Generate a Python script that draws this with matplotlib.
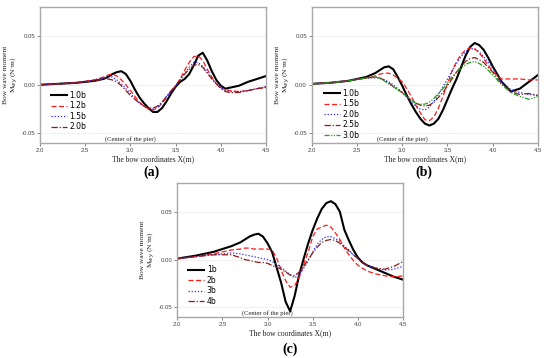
import matplotlib
matplotlib.use("Agg")
import matplotlib.pyplot as plt

# ---------------- data ----------------
x = [2.0, 2.2, 2.4, 2.6, 2.7, 2.75, 2.8, 2.85, 2.9, 2.95, 3.0, 3.05, 3.1, 3.15, 3.2, 3.25,
     3.3, 3.35, 3.4, 3.45, 3.5, 3.55, 3.6, 3.65, 3.7, 3.75, 3.8, 3.85, 3.9, 3.95, 4.0,
     4.05, 4.1, 4.2, 4.3, 4.4, 4.5]

# panel (a)
a_labels = ["1.0b", "1.2b", "1.5b", "2.0b"]
a_10 = [0.000, 0.001, 0.002, 0.004, 0.006, 0.008, 0.011, 0.013, 0.014, 0.011, 0.004, -0.005,
        -0.013, -0.019, -0.024, -0.028, -0.028, -0.024, -0.017, -0.009, -0.002, 0.003, 0.006,
        0.011, 0.020, 0.030, 0.033, 0.025, 0.014, 0.005, -0.001, -0.004, -0.003, -0.001,
        0.003, 0.006, 0.009]
a_12 = [0.000, 0.001, 0.002, 0.005, 0.008, 0.010, 0.011, 0.009, 0.005, 0.000, -0.006, -0.012,
        -0.018, -0.022, -0.025, -0.026, -0.024, -0.019, -0.013, -0.007, -0.001, 0.006, 0.015,
        0.023, 0.029, 0.030, 0.025, 0.016, 0.008, 0.001, -0.003, -0.005, -0.006, -0.007,
        -0.006, -0.004, -0.002]
a_15 = [0.000, 0.001, 0.002, 0.005, 0.007, 0.008, 0.008, 0.005, 0.001, -0.004, -0.009, -0.014,
        -0.019, -0.022, -0.024, -0.025, -0.023, -0.018, -0.012, -0.007, -0.001, 0.005, 0.012,
        0.018, 0.023, 0.023, 0.019, 0.013, 0.007, 0.001, -0.003, -0.006, -0.007, -0.007,
        -0.006, -0.004, -0.002]
a_20 = [0.000, 0.001, 0.002, 0.004, 0.006, 0.006, 0.005, 0.003, -0.001, -0.006, -0.011, -0.015,
        -0.019, -0.022, -0.024, -0.024, -0.022, -0.018, -0.012, -0.006, -0.001, 0.005, 0.011,
        0.016, 0.020, 0.021, 0.018, 0.012, 0.006, 0.001, -0.004, -0.007, -0.008, -0.008,
        -0.006, -0.004, -0.003]

# panel (b)
b_labels = ["1.0b", "1.5b", "2.0b", "2.5b", "3.0b"]
b_10 = [0.001, 0.002, 0.004, 0.008, 0.012, 0.015, 0.018, 0.019, 0.016, 0.008, -0.001, -0.011,
        -0.020, -0.028, -0.035, -0.040, -0.042, -0.040, -0.035, -0.026, -0.015, -0.004, 0.006,
        0.018, 0.030, 0.039, 0.043, 0.041, 0.036, 0.028, 0.019, 0.011, 0.003, -0.007, -0.004,
        0.003, 0.010]
b_15 = [0.001, 0.002, 0.004, 0.007, 0.009, 0.011, 0.012, 0.012, 0.010, 0.007, 0.003, -0.004,
        -0.012, -0.021, -0.029, -0.036, -0.037, -0.033, -0.024, -0.012, 0.001, 0.014, 0.024,
        0.031, 0.036, 0.038, 0.037, 0.033, 0.027, 0.020, 0.014, 0.009, 0.006, 0.006, 0.006,
        0.005, 0.005]
b_20 = [0.001, 0.002, 0.004, 0.007, 0.007, 0.007, 0.005, 0.003, 0.000, -0.004, -0.008, -0.013,
        -0.018, -0.022, -0.025, -0.026, -0.023, -0.017, -0.010, -0.002, 0.006, 0.014, 0.022,
        0.029, 0.034, 0.037, 0.037, 0.034, 0.029, 0.023, 0.017, 0.010, 0.003, -0.005, -0.008,
        -0.010, -0.011]
b_25 = [0.001, 0.002, 0.004, 0.007, 0.008, 0.007, 0.005, 0.002, -0.002, -0.005, -0.008, -0.012,
        -0.016, -0.019, -0.021, -0.022, -0.021, -0.018, -0.013, -0.008, -0.001, 0.006, 0.013,
        0.019, 0.024, 0.027, 0.028, 0.026, 0.023, 0.018, 0.013, 0.007, 0.001, -0.007, -0.010,
        -0.009, -0.011]
b_30 = [0.001, 0.002, 0.004, 0.007, 0.008, 0.007, 0.004, 0.001, -0.002, -0.005, -0.008, -0.012,
        -0.016, -0.019, -0.020, -0.020, -0.018, -0.014, -0.009, -0.004, 0.002, 0.008, 0.013,
        0.017, 0.021, 0.023, 0.024, 0.022, 0.019, 0.015, 0.010, 0.005, 0.000, -0.008, -0.012,
        -0.015, -0.012]

# panel (c)
c_labels = ["1b", "2b", "3b", "4b"]
c_1 = [0.001, 0.004, 0.008, 0.014, 0.018, 0.021, 0.024, 0.026, 0.027, 0.024, 0.017, 0.008,
       -0.008, -0.024, -0.044, -0.054, -0.038, -0.016, 0.001, 0.017, 0.031, 0.043, 0.053,
       0.059, 0.061, 0.058, 0.050, 0.031, 0.020, 0.010, 0.002, -0.003, -0.006, -0.010, -0.014,
       -0.018, -0.021]
c_2 = [0.001, 0.003, 0.006, 0.010, 0.011, 0.012, 0.012, 0.011, 0.011, 0.011, 0.011, 0.010,
       0.002, -0.011, -0.022, -0.029, -0.027, -0.019, -0.005, 0.008, 0.024, 0.032, 0.034,
       0.036, 0.034, 0.028, 0.021, 0.012, 0.005, -0.001, -0.006, -0.009, -0.012, -0.015,
       -0.017, -0.018, -0.017]
c_3 = [0.001, 0.003, 0.005, 0.007, 0.006, 0.005, 0.004, 0.003, 0.002, 0.001, 0.000, -0.002,
       -0.005, -0.008, -0.012, -0.016, -0.019, -0.016, -0.009, -0.001, 0.008, 0.016, 0.021,
       0.024, 0.024, 0.022, 0.019, 0.014, 0.010, 0.005, 0.001, -0.003, -0.006, -0.009, -0.011,
       -0.010, -0.007]
c_4 = [0.001, 0.003, 0.005, 0.005, 0.002, 0.000, -0.001, -0.002, -0.003, -0.003, -0.004, -0.006,
       -0.008, -0.010, -0.013, -0.016, -0.017, -0.013, -0.007, 0.000, 0.007, 0.013, 0.018,
       0.020, 0.021, 0.020, 0.017, 0.013, 0.009, 0.005, 0.001, -0.003, -0.006, -0.009, -0.010,
       -0.007, -0.002]

x_ticks = [2.0, 2.5, 3.0, 3.5, 4.0, 4.5]
y_ticks = [-0.05, 0.00, 0.05]

# ---------------- styles ----------------
BLACK = dict(color="black", lw=1.5, ls="-")
RED = dict(color="#ff1a1a", lw=0.9, ls=(0, (4, 2)))
BLUE = dict(color="#2a2aff", lw=0.9, ls=(0, (1, 1.5)))
BROWN = dict(color="#8b1c1c", lw=0.9, ls=(0, (5, 1.5, 1, 1.5)))
GREEN = dict(color="#19a319", lw=0.9, ls=(0, (4, 1.2, 1, 1.2, 1, 1.2)))

SERIF = "Liberation Serif"
fig = plt.figure(figsize=(5.5, 3.58), dpi=100)

def setup(ax, panel, label_x, label_y):
    ax.set_xlim(2.0, 4.5)
    ax.set_ylim(-0.06, 0.08)
    ax.set_xticks(x_ticks)
    ax.set_xticklabels(["%.1f" % v for v in x_ticks])
    ax.set_yticks(y_ticks)
    ax.set_yticklabels(["%.2f" % v for v in y_ticks])
    ax.tick_params(labelsize=4.3, length=2, width=0.5, colors="#555555", pad=1.5,
                   direction="out")
    for lab in ax.get_xticklabels() + ax.get_yticklabels():
        lab.set_fontfamily("Liberation Sans")
        lab.set_color("#444444")
    for s in ax.spines.values():
        s.set_color("#a8a8a8")
        s.set_linewidth(1.0)
    for yv in y_ticks:
        ax.axhline(yv, color="#d8d8d8", lw=0.5, ls=(0, (1, 1)), zorder=0)
    ax.set_xlabel("The bow coordinates X(m)", fontsize=5.5, family=SERIF, labelpad=2,
                  color="#222222")
    ax.set_ylabel("Bow wave moment\nM$_{wy}$ (N·m)", fontsize=5.4, family=SERIF,
                  labelpad=1, color="#222222", linespacing=1.1)
    ax.text(3.0, -0.0555, "(Center of the pier)", fontsize=4.8, family=SERIF,
            ha="center", va="center", color="#222222")
    fig.text(label_x, label_y, panel, fontsize=10, family=SERIF, weight="bold",
             ha="center", va="center")

def legend(ax, lines, labels, anchor):
    ax.legend(lines, labels, loc="upper left", bbox_to_anchor=anchor, frameon=False,
              handlelength=2.0, handletextpad=0.4, labelspacing=0.2,
              borderpad=0, borderaxespad=0, prop={"family": "DejaVu Sans", "size": 5.5})

# panel (a)
ax_a = fig.add_axes([0.0727, 0.6006, 0.411, 0.3794])
la = [ax_a.plot(x, a_10, **BLACK)[0], ax_a.plot(x, a_12, **RED)[0],
      ax_a.plot(x, a_15, **BLUE)[0], ax_a.plot(x, a_20, **BROWN)[0]]
setup(ax_a, "(a)", 0.276, 1 - 172 / 358)
legend(ax_a, la, a_labels, (0.05, 0.385))

# panel (b)
ax_b = fig.add_axes([0.567, 0.6006, 0.411, 0.3794])
lb = [ax_b.plot(x, b_10, **BLACK)[0], ax_b.plot(x, b_15, **RED)[0],
      ax_b.plot(x, b_20, **BLUE)[0], ax_b.plot(x, b_25, **BROWN)[0],
      ax_b.plot(x, b_30, **GREEN)[0]]
setup(ax_b, "(b)", 0.770, 1 - 172 / 358)
legend(ax_b, lb, b_labels, (0.055, 0.40))

# panel (c)
ax_c = fig.add_axes([0.322, 0.1145, 0.411, 0.3743])
lc = [ax_c.plot(x, c_1, **BLACK)[0], ax_c.plot(x, c_2, **RED)[0],
      ax_c.plot(x, c_3, **BLUE)[0], ax_c.plot(x, c_4, **BROWN)[0]]
setup(ax_c, "(c)", 0.527, 1 - 349 / 358)
legend(ax_c, lc, c_labels, (0.05, 0.385))

fig.savefig("out.png", dpi=100)
